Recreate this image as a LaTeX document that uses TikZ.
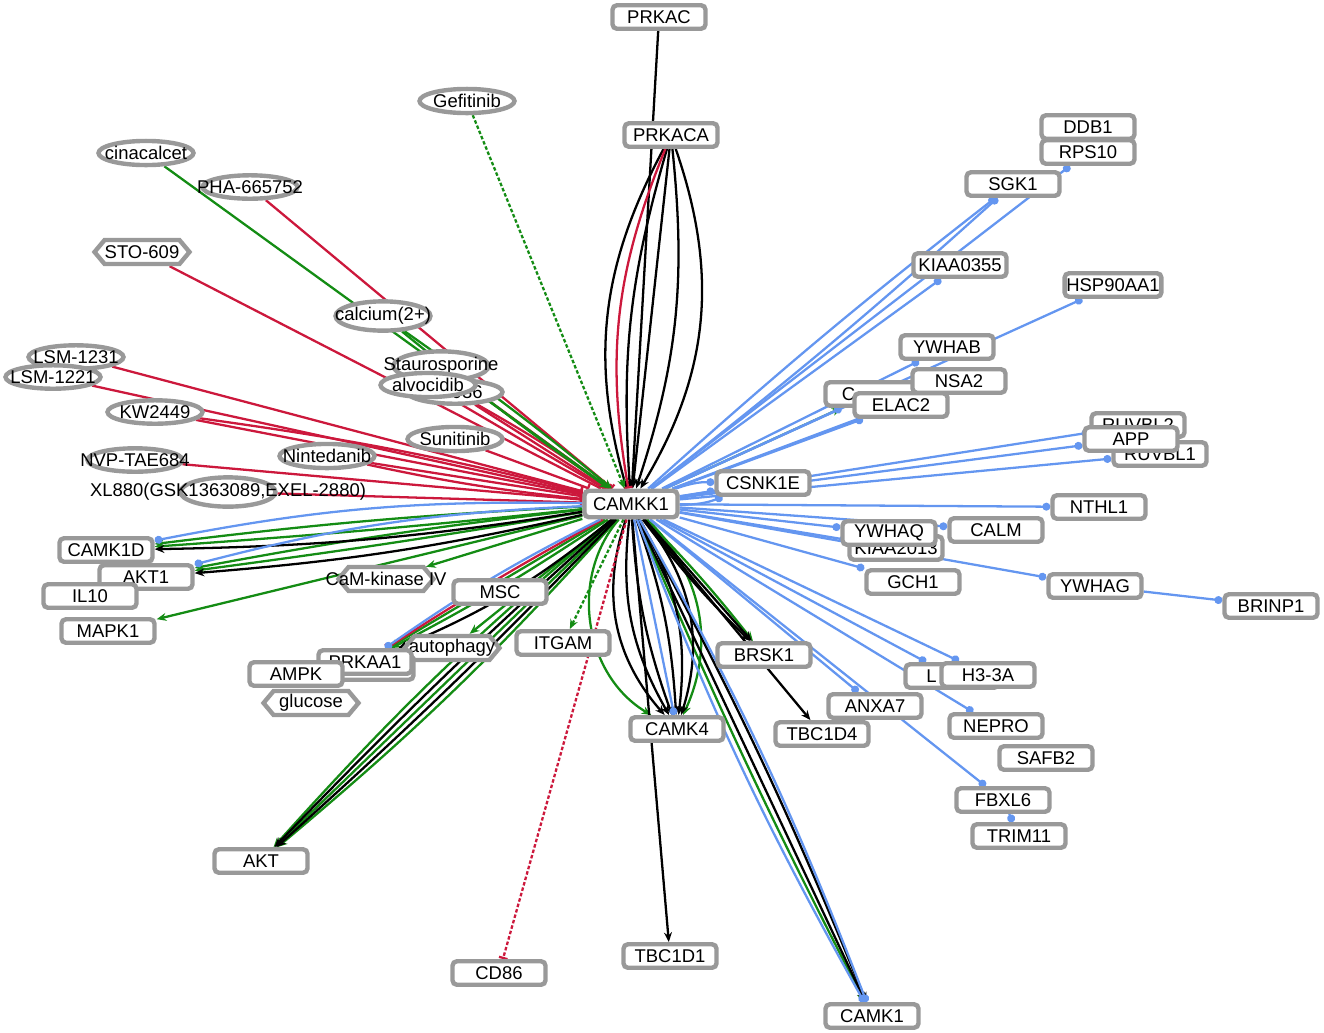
\documentclass[tikz,border=0pt]{standalone}
\usepackage{fontspec}
\setmainfont{Liberation Sans}
\usetikzlibrary{shapes.geometric,shapes.symbols,arrows.meta}
\pgfdeclarelayer{bg}
\pgfsetlayers{bg,main}
\definecolor{boxgray}{RGB}{153,153,153}
\definecolor{inhred}{RGB}{204,24,60}
\definecolor{actgreen}{RGB}{20,140,20}
\definecolor{bindblue}{RGB}{100,150,240}
\newcommand{\ovl}[1]{\makebox[0pt]{#1}}
\tikzset{
    gene/.style={draw=boxgray, fill=white, line width=2.5pt, rounded corners=2.5pt,
        minimum width=1.86cm, minimum height=0.47cm, inner sep=1pt,
        font=\fontsize{10.5}{12}\selectfont},
    drug/.style={gene, ellipse, sharp corners, minimum width=1.9cm, minimum height=0.44cm},
    chem/.style={gene, signal, signal to=west and east, signal pointer angle=100,
        sharp corners, minimum width=1.9cm, minimum height=0.48cm},
    inh/.style={draw=inhred, line width=1.3pt, -{Bar[width=5pt]}},
    act/.style={draw=actgreen, line width=1.3pt, -{Stealth[length=5.5pt,width=4.5pt]}},
    ctl/.style={draw=black, line width=1.3pt, -{Stealth[length=5.5pt,width=4.5pt]}},
    bind/.style={draw=bindblue, line width=1.3pt, -{Circle[length=4.5pt]}},
    dots/.style={dash pattern=on 2pt off 1.2pt},
}
\begin{document}
\begin{tikzpicture}[x=0.02cm, y=-0.02cm]
    \useasboundingbox (0,0) rectangle (1324,1032);
    \node[gene] (prkac) at (659,17) {PRKAC};
    \node[gene] (prkaca) at (671,135) {PRKACA};
    \node[drug] (gef) at (467,101) {\ovl{Gefitinib}};
    \node[drug] (cina) at (146,153) {\ovl{cinacalcet}};
    \node[drug] (pha) at (250,187) {\ovl{PHA-665752}};
    \node[chem] (sto) at (142,252) {\ovl{STO-609}};
    \node[drug] (calc) at (383,316) {\ovl{calcium(2+)}};
    \node[drug] (lsmb) at (76,357) {\ovl{LSM-1231}};
    \node[drug] (lsma) at (53,377) {\ovl{LSM-1221}};
    \node[drug] (stau) at (441,366) {\ovl{Staurosporine}};
    \node[drug] (d936) at (455,392) {\ovl{\phantom{AB}936}};
    \node[drug] (alvo) at (428,385) {\ovl{alvocidib}};
    \node[drug] (kw) at (155,412) {\ovl{KW2449}};
    \node[drug] (suni) at (455,439) {\ovl{Sunitinib}};
    \node[drug] (ninte) at (327,456) {\ovl{Nintedanib}};
    \node[drug] (nvp) at (135,460) {\ovl{NVP-TAE684}};
    \node[drug] (xl) at (228,492) {\ovl{XL880(GSK1363089,EXEL-2880)}};
    \node[gene, minimum height=0.53cm] (camkk1) at (631,504) {CAMKK1};
    \node[gene] (csnk) at (763,483) {CSNK1E};
    \node[gene] (camk1d) at (106,550) {CAMK1D};
    \node[gene] (akt1) at (146,577) {AKT1};
    \node[gene] (il10) at (90,596) {IL10};
    \node[gene] (mapk1) at (108,631) {MAPK1};
    \node[chem] (camkiv) at (386,579) {\ovl{CaM-kinase IV}};
    \node[gene] (msc) at (500,592) {MSC};
    \node[gene] (itgam) at (563,643) {ITGAM};
    \node[chem] (autoph) at (452,648) {\ovl{autophagy}};
    \node[gene] (prkaab) at (367,668) {};
    \node[gene] (prkaa1) at (365,662) {PRKAA1};
    \node[gene] (ampk) at (296,674) {AMPK};
    \node[chem] (glucose) at (311,703) {\ovl{glucose}};
    \node[gene] (akt) at (261,861) {AKT};
    \node[gene] (cd86) at (499,973) {CD86};
    \node[gene] (tbc1d1) at (670,956) {TBC1D1};
    \node[gene] (camk4) at (677,729) {CAMK4};
    \node[gene] (brsk1) at (764,655) {BRSK1};
    \node[gene] (tbc1d4) at (822,734) {TBC1D4};
    \node[gene] (anxa7) at (875,706) {ANXA7};
    \node[gene] (camk1) at (872,1016) {CAMK1};
    \node[gene] (lbox) at (952,676) {L\phantom{MNA}};
    \node[gene] (h33a) at (988,675) {H3-3A};
    \node[gene] (nepro) at (996,726) {NEPRO};
    \node[gene] (safb2) at (1046,758) {SAFB2};
    \node[gene] (fbxl6) at (1003,800) {FBXL6};
    \node[gene] (trim11) at (1019,836) {TRIM11};
    \node[gene] (gch1) at (913,582) {GCH1};
    \node[gene] (kiaa2013) at (896,548) {KIAA2013};
    \node[gene] (ywhaq) at (889,533) {YWHAQ};
    \node[gene] (calm) at (996,530) {CALM};
    \node[gene] (nthl1) at (1099,507) {NTHL1};
    \node[gene] (ywhag) at (1095,586) {YWHAG};
    \node[gene] (brinp1) at (1271,606) {BRINP1};
    \node[gene] (ruvbl2) at (1138,425) {RUVBL2};
    \node[gene] (ruvbl1) at (1160,454) {RUVBL1};
    \node[gene] (app) at (1131,439) {APP};
    \node[gene] (ywhab) at (947,347) {YWHAB};
    \node[gene] (cbox) at (872,394) {C\phantom{DC37}};
    \node[gene] (nsa2) at (959,381) {NSA2};
    \node[gene] (elac2) at (901,405) {ELAC2};
    \node[gene] (kiaa0355) at (960,265) {KIAA0355};
    \node[gene] (hsp) at (1113,285) {HSP90AA1};
    \node[gene] (sgk1) at (1013,184) {SGK1};
    \node[gene] (ddb1) at (1088,127) {DDB1};
    \node[gene] (rps10) at (1088,152) {RPS10};
    \begin{pgfonlayer}{bg}
        \draw[ctl] (prkac) -- (camkk1);
        \foreach \b in {-22,-10,0,12,25}
            \draw[ctl] (prkaca) to[bend left=\b] (camkk1);
        \draw[inh] (prkaca) to[bend right=16] (camkk1);
        \foreach \d/\b in {pha/0,sto/0,lsmb/0,lsma/0,kw/0,kw/3,nvp/0,xl/0,ninte/0,ninte/-3,
                suni/0,stau/0,alvo/0,d936/0,d936/3}
            \draw[inh] (\d) to[bend left=\b] (camkk1);
        \draw[act] (cina) -- (camkk1);
        \foreach \b in {-2,2}
            \draw[act] (calc) to[bend left=\b] (camkk1);
        \draw[act, dots] (gef) -- (camkk1);
        \foreach \t/\b in {camk1d/-2,camk1d/1,akt1/-2,akt1/1,mapk1/0,camkiv/0,prkaa1/0,prkaa1/3,
                autoph/0,akt/-4,akt/0,akt/4,brsk1/3,camk1/-2,camk4/-50,camk4/35,cbox/0}
            \draw[act] (camkk1) to[bend left=\b] (\t);
        \foreach \t/\b in {camk1d/4,akt1/4,prkaa1/8,akt/-2,akt/2,tbc1d1/0,tbc1d4/0,brsk1/0,brsk1/-4,
                camk1/0,camk1/3,camk4/-30,camk4/-18,camk4/-8,camk4/8,camk4/18,camk4/28}
            \draw[ctl] (camkk1) to[bend left=\b] (\t);
        \draw[inh] (camkk1) to[bend left=-2] (prkaa1);
        \draw[act, dots] (camkk1) -- (itgam);
        \draw[inh, dots] (camkk1) -- (cd86);
        \foreach \t/\b in {camk1d/-6,akt1/-6,prkaa1/-4,camk4/0,csnk/-10,csnk/0,csnk/10,sgk1/-2,sgk1/2,
                rps10/0,kiaa0355/0,hsp/0,ywhab/0,nsa2/0,cbox/0,elac2/0,ruvbl2/0,app/0,ruvbl1/0,
                nthl1/0,ywhaq/0,calm/0,kiaa2013/0,gch1/0,ywhag/0,lbox/0,h33a/0,nepro/0,anxa7/0,
                fbxl6/0,camk1/-4,camk1/4}
            \draw[bind] (camkk1) to[bend left=\b] (\t);
        \draw[bind] (ywhag) -- (brinp1);
        \draw[bind] (fbxl6) -- (trim11);
    \end{pgfonlayer}
\end{tikzpicture}
\end{document}
